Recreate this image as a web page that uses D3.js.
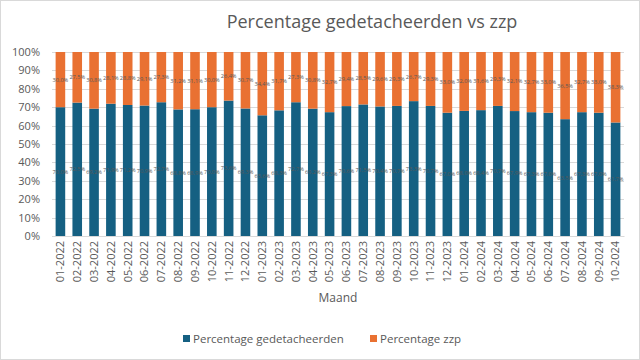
<!DOCTYPE html>
<html><head><meta charset="utf-8">
<script src="https://cdn.jsdelivr.net/npm/d3@7"></script>
<style>body{margin:0;background:#fff}svg{display:block}</style>
</head><body>
<svg id="c" width="640" height="360"></svg>
<script>
const months = ["01-2022","02-2022","03-2022","04-2022","05-2022","06-2022","07-2022","08-2022","09-2022","10-2022","11-2022","12-2022",
"01-2023","02-2023","03-2023","04-2023","05-2023","06-2023","07-2023","08-2023","09-2023","10-2023","11-2023","12-2023",
"01-2024","02-2024","03-2024","04-2024","05-2024","06-2024","07-2024","08-2024","09-2024","10-2024"];
const gedetacheerd = [70.0,72.5,69.2,71.9,71.2,70.9,72.7,68.8,68.9,70.0,73.6,69.3,
65.6,68.3,72.7,69.2,67.3,70.6,71.5,70.4,70.7,73.3,70.7,67.0,
68.0,68.4,70.7,67.9,67.3,67.0,63.5,67.3,67.0,61.7];
const zzp = [30.0,27.5,30.8,28.1,28.8,29.1,27.3,31.2,31.1,30.0,26.4,30.7,
34.4,31.7,27.3,30.8,32.7,29.4,28.5,29.6,29.3,26.7,29.3,33.0,
32.0,31.6,29.3,32.1,32.7,33.0,36.5,32.7,33.0,38.3];
const yTicks = [0,10,20,30,40,50,60,70,80,90,100];
const seriesNames = ["Percentage gedetacheerden","Percentage zzp"];
const colors = ["#156082","#E97132"];

const svg = d3.select("#c");
const font = "'Open Sans', Lato, sans-serif";
svg.append("rect").attr("x",0.5).attr("y",0.5).attr("width",639).attr("height",359)
  .attr("fill","#fff").attr("stroke","#d9d9d9");

const L=52,R=624,T=52,B=236;
const x = d3.scaleBand().domain(months).range([L,R]).paddingInner(0.43).paddingOuter(0.215);
const y = d3.scaleLinear().domain([0,100]).range([B,T]);

// gridlines
svg.append("g").selectAll("line").data(yTicks).join("line")
  .attr("x1",L).attr("x2",R).attr("y1",d=>Math.round(y(d))+0.5).attr("y2",d=>Math.round(y(d))+0.5)
  .attr("stroke","#d9d9d9").attr("stroke-width",1);

// y axis
const yAxis = d3.axisLeft(y).tickValues(yTicks).tickFormat(d=>d+"%").tickSize(0).tickPadding(12);
const gy = svg.append("g").attr("transform",`translate(${L},0)`).call(yAxis);
gy.select(".domain").remove();
gy.selectAll("text").attr("font-family",font).attr("font-size",11).attr("fill","#595959");

// stacked bars
const data = months.map((m,i)=>({m, a:gedetacheerd[i], b:zzp[i]}));
const stack = d3.stack().keys(["a","b"]).offset(d3.stackOffsetExpand)(data);
stack.forEach((s,si)=>{
  const g = svg.append("g");
  g.selectAll("rect").data(s).join("rect")
    .attr("x",d=>x(d.data.m)).attr("width",x.bandwidth())
    .attr("y",d=>y(d[1]*100)).attr("height",d=>y(d[0]*100)-y(d[1]*100))
    .attr("fill",colors[si]);
  g.selectAll("text").data(s).join("text")
    .attr("x",d=>x(d.data.m)+x.bandwidth()/2)
    .attr("y",d=>(y(d[0]*100)+y(d[1]*100))/2)
    .attr("dy","0.35em").attr("text-anchor","middle")
    .attr("font-family",font).attr("font-size",5.6).attr("fill","#595959")
    .text(d=>(si===0?d.data.a:d.data.b).toFixed(1).replace(".",",")+"%");
});

// x axis
const xAxis = d3.axisBottom(x).tickSize(0).tickPadding(0);
const gx = svg.append("g").attr("transform",`translate(0,${B})`).call(xAxis);
gx.select(".domain").attr("stroke","#d9d9d9");
gx.selectAll("text").attr("font-family",font).attr("font-size",11).attr("fill","#595959")
  .attr("transform","rotate(-90)").attr("text-anchor","end").attr("x",-5).attr("y",0).attr("dy","0.35em");

// title
svg.append("text").attr("x",372).attr("y",28).attr("text-anchor","middle")
  .attr("font-family",font).attr("font-size",18).attr("fill","#595959")
  .text("Percentage gedetacheerden vs zzp");
// axis title
svg.append("text").attr("x",338).attr("y",302).attr("text-anchor","middle")
  .attr("font-family",font).attr("font-size",12).attr("fill","#595959").text("Maand");

// legend
const legX = [183,370];
seriesNames.forEach((n,i)=>{
  svg.append("rect").attr("x",legX[i]).attr("y",335).attr("width",7).attr("height",7).attr("fill",colors[i]);
  svg.append("text").attr("x",legX[i]+10).attr("y",339).attr("dy","0.35em")
    .attr("font-family",font).attr("font-size",11.5).attr("fill","#595959").text(n);
});
</script>
</body></html>
